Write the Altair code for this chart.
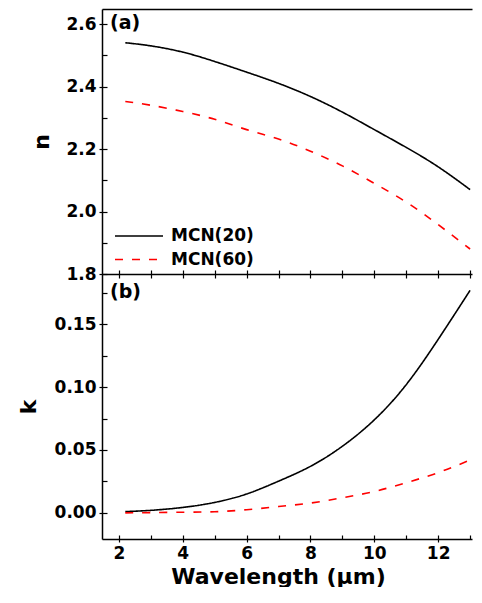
import altair as alt
import pandas as pd

wavelength = [2.2, 3, 4, 5, 6, 7, 8, 9, 10, 11, 12, 13]
n_mcn20 = [2.540, 2.530, 2.510, 2.480, 2.446, 2.410, 2.368, 2.318, 2.262, 2.205, 2.143, 2.070]
n_mcn60 = [2.352, 2.340, 2.320, 2.295, 2.262, 2.232, 2.193, 2.146, 2.090, 2.030, 1.958, 1.880]
k_mcn20 = [0.001, 0.002, 0.0043, 0.0083, 0.0150, 0.0252, 0.037, 0.053, 0.074, 0.102, 0.138, 0.177]
k_mcn60 = [0.000, 0.0002, 0.0005, 0.0009, 0.0025, 0.0050, 0.0078, 0.012, 0.017, 0.024, 0.032, 0.042]
series_names = ["MCN(20)", "MCN(60)"]
x_major = [2, 4, 6, 8, 10, 12]
x_all = [2, 3, 4, 5, 6, 7, 8, 9, 10, 11, 12, 13]
n_major = [1.8, 2.0, 2.2, 2.4, 2.6]
n_all = [1.8, 1.9, 2.0, 2.1, 2.2, 2.3, 2.4, 2.5, 2.6]
k_major = [0.0, 0.05, 0.10, 0.15]
k_all = [0.0, 0.025, 0.05, 0.075, 0.10, 0.125, 0.15, 0.175]

rows = []
for i, w in enumerate(wavelength):
    rows.append({"wl": w, "series": series_names[0], "n": n_mcn20[i], "k": k_mcn20[i]})
    rows.append({"wl": w, "series": series_names[1], "n": n_mcn60[i], "k": k_mcn60[i]})
df = pd.DataFrame(rows)

W, H = 370, 265
FONT = "DejaVu Sans"
xs = alt.Scale(domain=[1.47, 13.06], nice=False, zero=False)
ns = alt.Scale(domain=[1.8, 2.648], nice=False, zero=False)
ks = alt.Scale(domain=[-0.0208, 0.19], nice=False, zero=False)


def ax(**kw):
    base = dict(domainColor="black", tickColor="black", labelColor="black",
                titleColor="black", grid=False, labelFont=FONT, titleFont=FONT,
                labelFontWeight="bold", titleFontWeight="bold", labelFontSize=17,
                titleFontSize=22, domainWidth=1.5, tickWidth=1.2, minExtent=0)
    base.update(kw)
    return alt.Axis(**base)


def legend():
    return alt.Legend(orient="none", legendX=24, legendY=214, title=None,
                      symbolType="M-2,0H2", symbolSize=576, symbolStrokeWidth=1.6,
                      symbolFillColor="transparent",
                      labelFont=FONT, labelFontSize=17, labelFontWeight="bold",
                      labelColor="black", labelOffset=19, padding=0, rowPadding=2.5)


def enc_style(show_legend):
    lg = legend() if show_legend else None
    return dict(
        color=alt.Color("series:N", scale=alt.Scale(domain=series_names, range=["#000000", "#ff0000"]), legend=lg),
        strokeDash=alt.StrokeDash("series:N", scale=alt.Scale(domain=series_names, range=[[1, 0], [8, 9]]), legend=lg),
    )


def panel(field, yscale, ymajor, yall, yfmt, ytitle, ytp, label, label_y, bottom):
    base = alt.Chart(df)
    if bottom:
        xmain = ax(orient="bottom", values=x_major, tickSize=3, labelPadding=3,
                   title="Wavelength (μm)", titlePadding=5, titleFontSize=22,
                   titleX=176, titleAlign="center")
    else:
        xmain = ax(orient="bottom", values=x_all, tickSize=4, labels=False, title=None)
    lines = base.mark_line(strokeWidth=1.6, interpolate="natural").encode(
        x=alt.X("wl:Q", scale=xs, axis=xmain),
        y=alt.Y(f"{field}:Q", scale=yscale,
                axis=ax(orient="left", values=ymajor, format=yfmt, tickSize=3,
                        labelPadding=3, title=ytitle, titlePadding=ytp)),
        detail="series:N",
        **enc_style(not bottom),
    )
    inward = base.mark_line(strokeOpacity=0).encode(
        x=alt.X("wl:Q", scale=xs,
                axis=ax(orient="top", offset=-H, values=x_all, tickSize=4, domain=False,
                        labels=False, title=None)),
        y=alt.Y(f"{field}:Q", scale=yscale,
                axis=ax(orient="right", offset=-W, values=yall, tickSize=5, domain=False,
                        labels=False, title=None)),
        detail="series:N",
    )
    layers = [lines, inward]
    if not bottom:
        border = base.mark_line(strokeOpacity=0).encode(
            x=alt.X("wl:Q", scale=xs,
                    axis=ax(orient="top", ticks=False, labels=False, title=None)),
            y=alt.Y(f"{field}:Q", scale=yscale, axis=None),
            detail="series:N",
        )
        layers.append(border)
    lab = alt.Chart(pd.DataFrame({"t": [label]})).mark_text(
        font=FONT, fontSize=19, fontWeight="bold", align="left", baseline="middle",
        color="black").encode(text="t:N", x=alt.value(8), y=alt.value(label_y))
    layers.append(lab)
    return alt.layer(*layers).resolve_axis(x="independent", y="independent").properties(width=W, height=H)


top = panel("n", ns, n_major, n_all, ".1f", "n", 12, "(a)", 14, False)
bot = panel("k", ks, k_major, k_all, ".2f", "k", 14, "(b)", 18, True)

chart = alt.vconcat(top, bot, spacing=0, bounds="flush").resolve_scale(
    color="independent", strokeDash="independent"
).configure_view(stroke=None).properties(
    padding={"left": 9, "top": 1, "right": 0, "bottom": 0}
)

chart.save("out.html", embed_options={"renderer": "svg", "actions": False})
